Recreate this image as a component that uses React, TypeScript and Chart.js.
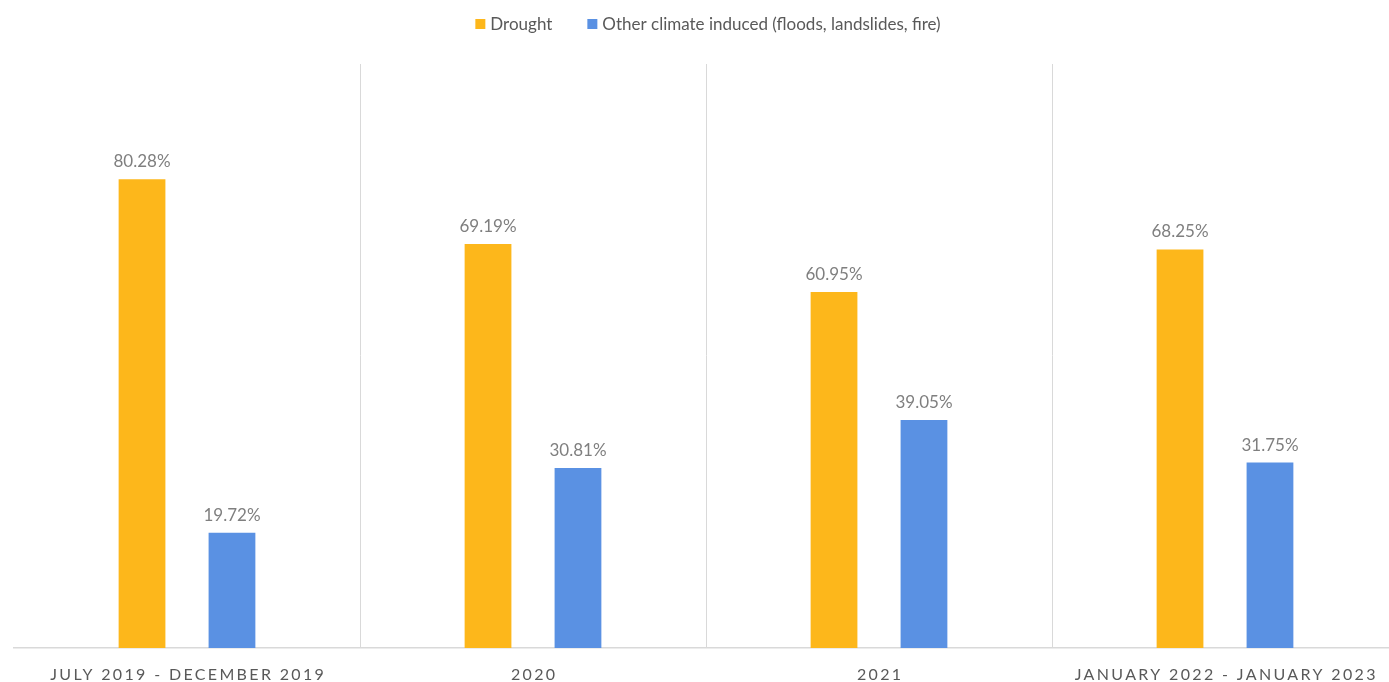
import React, { useEffect, useRef } from "react";
import { Chart, registerables } from "chart.js";

Chart.register(...registerables);

const categories = [
  "JULY 2019 - DECEMBER 2019",
  "2020",
  "2021",
  "JANUARY 2022 - JANUARY 2023",
];
const droughtValues = [80.28, 69.19, 60.95, 68.25];
const otherValues = [19.72, 30.81, 39.05, 31.75];
const seriesNames = ["Drought", "Other climate induced (floods, landslides, fire)"];
const seriesColors = ["#FDB71B", "#5A91E3"];

const FONT = "Lato, 'Open Sans', sans-serif";

const labelsPlugin = {
  id: "customLabels",
  afterDatasetsDraw(chart: any) {
    const ctx = chart.ctx;
    // value labels
    ctx.save();
    ctx.font = `17px ${FONT}`;
    ctx.fillStyle = "#7f7f7f";
    ctx.textAlign = "center";
    ctx.textBaseline = "alphabetic";
    chart.data.datasets.forEach((ds: any, di: number) => {
      const meta = chart.getDatasetMeta(di);
      meta.data.forEach((bar: any, i: number) => {
        ctx.fillText(ds.data[i].toFixed(2) + "%", bar.x, bar.y - 12);
      });
    });
    ctx.restore();

    // category labels
    const xScale = chart.scales.x;
    ctx.save();
    ctx.font = `16px ${FONT}`;
    ctx.fillStyle = "#595959";
    ctx.textAlign = "center";
    ctx.textBaseline = "alphabetic";
    try {
      (ctx as any).letterSpacing = "2.35px";
    } catch (e) {}
    categories.forEach((c, i) => {
      ctx.fillText(c, xScale.getPixelForValue(i) + 1.2, 680);
    });
    ctx.restore();

    // legend
    ctx.save();
    ctx.font = `17px ${FONT}`;
    ctx.textBaseline = "middle";
    ctx.textAlign = "left";
    const box = 10;
    const gap = 5;
    const itemGap = 35;
    const widths = seriesNames.map((n) => ctx.measureText(n).width);
    const total = widths.reduce((a, w) => a + box + gap + w, 0) + itemGap;
    let x = 708 - total / 2;
    const cy = 24;
    seriesNames.forEach((n, i) => {
      ctx.fillStyle = seriesColors[i];
      ctx.fillRect(x, cy - box / 2, box, box);
      x += box + gap;
      ctx.fillStyle = "#595959";
      ctx.fillText(n, x, cy + 1);
      x += widths[i] + itemGap;
    });
    ctx.restore();
  },
};

export default function App() {
  const ref = useRef<HTMLCanvasElement>(null);
  useEffect(() => {
    if (!ref.current) return;
    const chart = new Chart(ref.current, {
      type: "bar",
      data: {
        labels: categories,
        datasets: [
          {
            label: seriesNames[0],
            data: droughtValues,
            backgroundColor: seriesColors[0],
            categoryPercentage: 0.52,
            barPercentage: 0.52,
          },
          {
            label: seriesNames[1],
            data: otherValues,
            backgroundColor: seriesColors[1],
            categoryPercentage: 0.52,
            barPercentage: 0.52,
          },
        ],
      },
      options: {
        responsive: false,
        animation: false,
        devicePixelRatio: 1,
        layout: { padding: { left: 14, right: 0, top: 64, bottom: 34 } },
        plugins: {
          legend: { display: false },
          tooltip: { enabled: false },
        },
        scales: {
          x: {
            offset: true,
            grid: {
              offset: true,
              drawTicks: false,
              lineWidth: 1,
              color: (ctx: any) =>
                ctx.index === 0 || ctx.index === categories.length ? "rgba(0,0,0,0)" : "#d9d9d9",
            },
            border: { display: true, color: "#d9d9d9", width: 1.5 },
            ticks: { display: false },
          },
          y: {
            display: false,
            min: 0,
            max: 100,
          },
        },
      },
      plugins: [labelsPlugin],
    });
    return () => chart.destroy();
  }, []);
  return (
    <div
      style={{
        position: "fixed",
        top: 0,
        left: 0,
        width: 1389,
        height: 682,
        overflow: "hidden",
        background: "#fff",
      }}
    >
      <canvas ref={ref} width={1398} height={682} style={{ display: "block" }} />
    </div>
  );
}
